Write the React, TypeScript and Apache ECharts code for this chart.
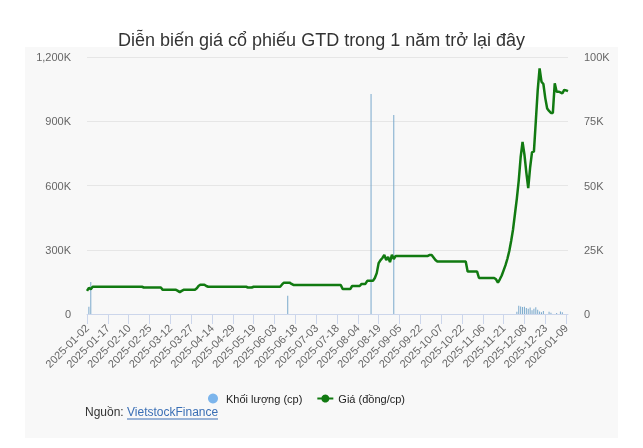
import React, { useEffect, useRef } from 'react';
import * as echarts from 'echarts';

// Trading calendar (HOSE) holidays on weekdays in the period
const holidays: string[] = [
  '2025-01-01', '2025-01-27', '2025-01-28', '2025-01-29', '2025-01-30', '2025-01-31',
  '2025-04-07', '2025-04-30', '2025-05-01', '2025-05-02',
  '2025-09-01', '2025-09-02',
  '2026-01-01', '2026-01-02',
];
const firstDate = '2025-01-02';
const lastDate = '2026-01-12';

function buildDates(): string[] {
  const out: string[] = [];
  const d = new Date(firstDate + 'T00:00:00Z');
  const end = new Date(lastDate + 'T00:00:00Z');
  while (d.getTime() <= end.getTime()) {
    const s = d.toISOString().slice(0, 10);
    const wd = d.getUTCDay();
    if (wd !== 0 && wd !== 6 && holidays.indexOf(s) < 0) out.push(s);
    d.setUTCDate(d.getUTCDate() + 1);
  }
  return out;
}
const dates = buildDates();

// Giá (đồng/cp), one value per trading day
const prices: number[] = [
  9000, 10200, 9600, 10600,
  10600, 10600, 10600, 10600, 10600, 10600, 10600, 10600, 10600, 10600, 10600, 10600, 10600,
  10600, 10600, 10600, 10600, 10600, 10600, 10600, 10600, 10600, 10600, 10600, 10600, 10600,
  10300, 10300, 10300, 10300, 10300, 10300, 10300, 10300, 10300, 10300,
  9400, 9400, 9400, 9400, 9400, 9400, 9400, 9400,
  9000, 8500, 9000,
  9400, 9400, 9400, 9400, 9400, 9400, 9400,
  10000, 11000,
  11400, 11400, 11400,
  10900,
  10600, 10600, 10600, 10600, 10600, 10600, 10600, 10600, 10600, 10600, 10600,
  10600, 10600, 10600, 10600, 10600, 10600, 10600, 10600, 10600, 10600,
  10300, 10300, 10300,
  10600, 10600, 10600, 10600, 10600, 10600, 10600, 10600, 10600, 10600, 10600, 10600, 10600, 10600, 10600,
  11500,
  12200, 12200, 12200, 12200,
  11700,
  11300, 11300, 11300, 11300, 11300, 11300, 11300, 11300, 11300, 11300, 11300, 11300, 11300,
  11300, 11300, 11300, 11300, 11300, 11300, 11300, 11300, 11300, 11300, 11300, 11300, 11300,
  9700, 9700, 9700, 9700, 9700,
  10900, 10900, 10900, 10900, 10900,
  11700, 11700, 11700,
  12900, 12900, 12900, 12900,
  14000, 15900, 19800, 21000, 21800, 23000, 21000, 22200, 20200, 23000, 21400,
  22600, 22600, 22600, 22600, 22600, 22600, 22600, 22600, 22600,
  22600, 22600, 22600, 22600, 22600, 22600, 22600, 22600, 22600,
  23000, 23000,
  22000, 21000,
  20400, 20400, 20400, 20400, 20400, 20400, 20400, 20400,
  20400, 20400, 20400, 20400, 20400, 20400, 20400, 20400,
  16500, 16500, 16500, 16500, 16500, 16500,
  14000, 14000, 14000, 14000, 14000, 14000, 14000, 14000, 14000,
  13500, 12200, 13500, 15000, 17000, 19000, 21500, 24500, 28500, 33000,
  39000, 45000, 52000, 61000, 67000, 62000, 55000, 49000, 57000, 63000,
  63200, 75000, 87000, 95600, 90400, 89500, 84000, 80000, 79000, 78200,
  78200, 89800, 86500, 86500, 86200, 85800, 87200, 87000, 86700,
];

// Khối lượng (cp): days with visible volume; all other days are ~0
const volumeDays: string[] = [
  '2025-01-03', '2025-01-06', '2025-06-12', '2025-08-13', '2025-08-29',
  '2025-12-02', '2025-12-03', '2025-12-04', '2025-12-05', '2025-12-08', '2025-12-09',
  '2025-12-10', '2025-12-11', '2025-12-12', '2025-12-15', '2025-12-16', '2025-12-17',
  '2025-12-18', '2025-12-19', '2025-12-22', '2025-12-25', '2025-12-26', '2025-12-31',
  '2026-01-06', '2026-01-07',
];
const volumeValues: number[] = [
  34000, 150000, 85000, 1027000, 929000,
  10000, 38000, 35000, 33000, 34000, 28000,
  25000, 30000, 18000, 25000, 32000, 20000,
  12000, 8000, 14000, 10000, 6000, 5000,
  12000, 8000,
];

const leftTicks = { min: 0, max: 1200000, interval: 300000 };
const rightTicks = { min: 0, max: 100000, interval: 25000 };

const titleText = 'Diễn biến giá cổ phiếu GTD trong 1 năm trở lại đây';
const volName = 'Khối lượng (cp)';
const priceName = 'Giá (đồng/cp)';

function fmtK(v: number): string {
  if (v === 0) return '0';
  return (v / 1000).toLocaleString('en-US') + 'K';
}

export default function App() {
  const ref = useRef<HTMLDivElement>(null);
  useEffect(() => {
    if (!ref.current) return;
    const chart = echarts.init(ref.current, undefined, { renderer: 'svg' });
    const volMap: Record<string, number> = {};
    volumeDays.forEach((d, i) => { volMap[d] = volumeValues[i]; });
    const volumes = dates.map((d) => volMap[d] ?? 0);
    const font = 'Arial, "Liberation Sans", sans-serif';
    chart.setOption({
      animation: false,
      textStyle: { fontFamily: font },
      title: {
        text: titleText,
        left: 'center',
        top: 26,
        textStyle: { fontSize: 18, fontWeight: 'normal', color: '#333333', fontFamily: font },
      },
      graphic: [
        { type: 'rect', z: -10, silent: true, shape: { x: 25, y: 47, width: 593, height: 391 }, style: { fill: '#f8f8f8' } },
        { type: 'text', x: 85, y: 412, style: { text: 'Nguồn:', fill: '#333333', font: '12px ' + font, textVerticalAlign: 'middle' } },
        { type: 'text', x: 127, y: 412, style: { text: 'VietstockFinance', fill: '#3a6fb5', font: '12px ' + font, textVerticalAlign: 'middle' } },
        { type: 'line', shape: { x1: 127, y1: 419, x2: 218, y2: 419 }, style: { stroke: '#3a6fb5', lineWidth: 1 } },
      ],
      legend: {
        left: 203,
        top: 388,
        itemGap: 14,
        itemWidth: 16,
        itemHeight: 10,
        textStyle: { fontSize: 11, color: '#222222', fontFamily: font },
        data: [
          { name: volName, icon: 'circle', itemStyle: { color: '#7cb5ec' } },
          { name: priceName },
        ],
      },
      grid: { left: 87, right: 75, top: 57, bottom: 134, outerBoundsMode: 'none', containLabel: false },
      xAxis: {
        type: 'category',
        data: dates,
        boundaryGap: false,
        axisLine: { lineStyle: { color: '#ccd6eb' } },
        axisTick: { interval: 10, length: 10, lineStyle: { color: '#ccd6eb' } },
        axisLabel: { interval: 10, rotate: 45, fontSize: 11, color: '#666666', margin: 12 },
        splitLine: { show: false },
      },
      yAxis: [
        {
          type: 'value',
          ...leftTicks,
          position: 'left',
          axisLine: { show: false },
          axisTick: { show: false },
          axisLabel: { fontSize: 11, color: '#666666', margin: 16, formatter: fmtK },
          splitLine: { lineStyle: { color: '#e6e6e6' } },
        },
        {
          type: 'value',
          ...rightTicks,
          position: 'right',
          axisLine: { show: false },
          axisTick: { show: false },
          axisLabel: { fontSize: 11, color: '#666666', margin: 16, formatter: fmtK },
          splitLine: { show: false },
        },
      ],
      series: [
        {
          name: volName,
          type: 'bar',
          yAxisIndex: 0,
          barWidth: 1,
          data: volumes,
          itemStyle: { color: '#7aa9cc' },
        },
        {
          name: priceName,
          type: 'line',
          yAxisIndex: 1,
          data: prices,
          symbol: 'circle',
          symbolSize: 7,
          showSymbol: false,
          lineStyle: { color: '#117a11', width: 2.5 },
          itemStyle: { color: '#117a11' },
          z: 3,
        },
      ],
    });
    return () => chart.dispose();
  }, []);
  return <div ref={ref} style={{ position: 'fixed', left: 0, top: 0, width: 643, height: 448 }} />;
}
